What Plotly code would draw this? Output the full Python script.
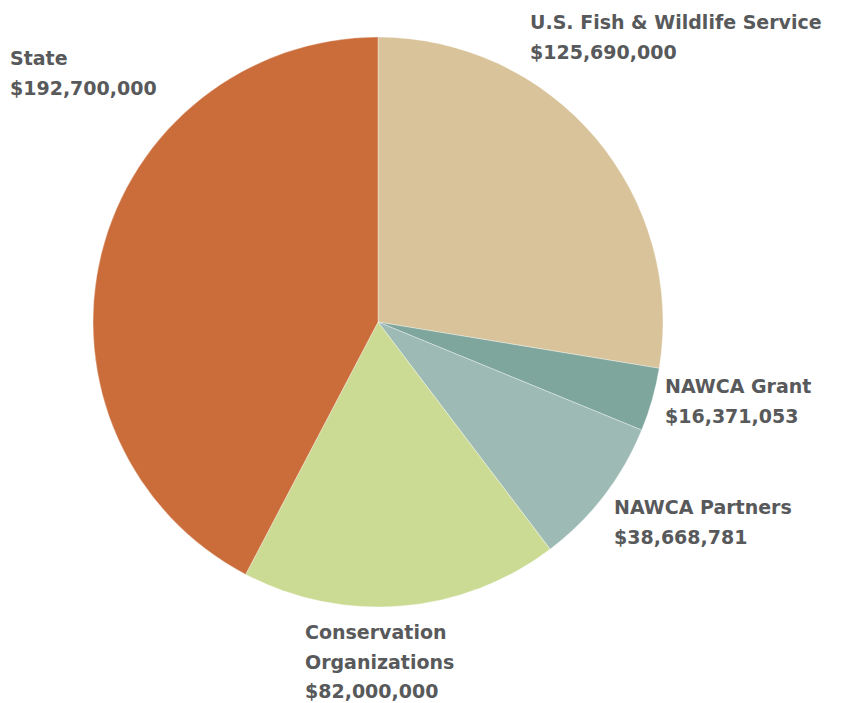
import plotly.graph_objects as go

categories = ["U.S. Fish & Wildlife Service", "NAWCA Grant", "NAWCA Partners",
              "Conservation Organizations", "State"]
values = [125690000, 16371053, 38668781, 82000000, 192700000]
colors = ["#d9c39a", "#7ea69c", "#9dbbb4", "#cbdb93", "#cb6d3a"]
label_lines = [["U.S. Fish & Wildlife Service"], ["NAWCA Grant"], ["NAWCA Partners"],
               ["Conservation", "Organizations"], ["State"]]

W, H = 841, 703
cx, cy, r = 378, 322, 285

fig = go.Figure(go.Pie(
    labels=categories, values=values, sort=False, direction="clockwise", rotation=0,
    marker=dict(colors=colors, line=dict(color="rgba(255,255,255,0.6)", width=0.6)),
    textinfo="none", hoverinfo="label+value", showlegend=False,
    domain=dict(x=[(cx - r) / W, (cx + r) / W], y=[(H - cy - r) / H, (H - cy + r) / H]),
))

# label anchor positions (left x, first line center y) in pixels
anchors = [(528, 22), (663, 386), (612, 507), (303, 632), (8, 58)]
line_h = 29.5
ann = []
for (x0, y0), lines, v in zip(anchors, label_lines, values):
    for i, t in enumerate(lines + [f"${v:,}"]):
        ann.append(dict(x=x0 / W, y=1 - (y0 + i * line_h) / H, xref="paper", yref="paper",
                        text=t, showarrow=False, xanchor="left", yanchor="middle",
                        font=dict(family="DejaVu Sans", size=19, color="#58595b", weight="bold")))

fig.update_layout(width=W, height=H, margin=dict(l=0, r=0, t=0, b=0),
                  paper_bgcolor="white", plot_bgcolor="white", annotations=ann)
fig.write_html("out.html")
